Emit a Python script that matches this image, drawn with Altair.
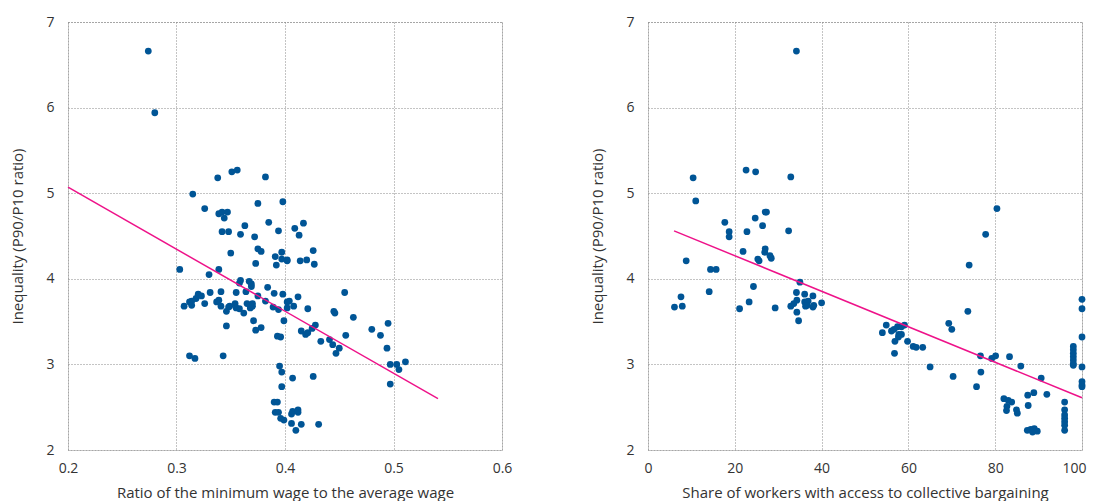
import altair as alt
import pandas as pd

# Left panel: ratio of minimum wage to average wage vs P90/P10
mw_x = [0.274, 0.280, 0.338, 0.351, 0.356, 0.382, 0.315, 0.326, 0.375, 0.398,
        0.339, 0.342, 0.347, 0.344, 0.363, 0.385, 0.394, 0.409, 0.417, 0.413,
        0.342, 0.348, 0.359, 0.372, 0.350, 0.375, 0.378, 0.373, 0.391, 0.397,
        0.392, 0.397, 0.402, 0.402, 0.414, 0.420, 0.426, 0.427, 0.303, 0.330,
        0.339, 0.359, 0.358, 0.367, 0.369, 0.369, 0.384, 0.331, 0.341, 0.355,
        0.364, 0.375, 0.390, 0.398, 0.455, 0.320, 0.323, 0.318, 0.314, 0.312,
        0.314, 0.307, 0.326, 0.337, 0.339, 0.341, 0.346, 0.348, 0.349, 0.354,
        0.355, 0.358, 0.362, 0.365, 0.368, 0.370, 0.370, 0.382, 0.389, 0.394,
        0.402, 0.404, 0.408, 0.402, 0.412, 0.421, 0.399, 0.371, 0.346, 0.373,
        0.378, 0.393, 0.396, 0.415, 0.419, 0.421, 0.428, 0.425, 0.433, 0.445,
        0.446, 0.463, 0.456, 0.441, 0.444, 0.450, 0.447, 0.480, 0.488, 0.495,
        0.494, 0.497, 0.503, 0.505, 0.511, 0.497, 0.312, 0.317, 0.343, 0.395,
        0.397, 0.407, 0.397, 0.426, 0.390, 0.393, 0.391, 0.394, 0.396, 0.399,
        0.406, 0.406, 0.407, 0.412, 0.412, 0.410, 0.415, 0.431]
mw_y = [6.66, 5.94, 5.18, 5.25, 5.27, 5.19, 4.99, 4.82, 4.88, 4.90,
        4.76, 4.78, 4.78, 4.71, 4.62, 4.66, 4.56, 4.59, 4.65, 4.51,
        4.55, 4.55, 4.52, 4.49, 4.30, 4.35, 4.32, 4.18, 4.26, 4.31,
        4.16, 4.23, 4.22, 4.21, 4.21, 4.22, 4.33, 4.17, 4.11, 4.05,
        4.11, 3.98, 3.95, 3.97, 3.94, 3.91, 3.90, 3.84, 3.85, 3.84,
        3.85, 3.80, 3.83, 3.82, 3.84, 3.82, 3.80, 3.77, 3.74, 3.73,
        3.69, 3.68, 3.71, 3.73, 3.75, 3.68, 3.62, 3.67, 3.68, 3.71,
        3.66, 3.65, 3.60, 3.71, 3.66, 3.68, 3.71, 3.74, 3.67, 3.64,
        3.73, 3.74, 3.68, 3.66, 3.79, 3.65, 3.51, 3.51, 3.45, 3.40,
        3.43, 3.33, 3.32, 3.39, 3.35, 3.37, 3.46, 3.42, 3.27, 3.62,
        3.60, 3.55, 3.34, 3.29, 3.23, 3.19, 3.13, 3.41, 3.34, 3.48,
        3.19, 3.00, 3.00, 2.94, 3.03, 2.77, 3.10, 3.07, 3.10, 2.98,
        2.91, 2.84, 2.74, 2.86, 2.56, 2.56, 2.44, 2.44, 2.37, 2.35,
        2.31, 2.42, 2.45, 2.47, 2.44, 2.23, 2.30, 2.30]

# Right panel: share of workers with access to collective bargaining vs P90/P10
cb_x = [34.2, 10.4, 22.6, 24.8, 32.9, 11.0, 80.4, 27.0, 27.3, 17.7,
        24.7, 26.4, 18.7, 18.7, 22.8, 32.4, 77.8, 8.8, 14.4, 15.7,
        21.9, 25.3, 25.6, 27.0, 26.9, 28.1, 28.4, 74.0, 14.1, 7.6,
        6.1, 7.9, 24.3, 23.3, 21.1, 29.3, 35.0, 34.2, 36.1, 38.0,
        40.0, 34.3, 33.6, 32.9, 36.1, 36.9, 36.3, 38.0, 34.3, 34.7,
        36.7, 38.2, 73.7, 69.3, 70.0, 54.0, 54.9, 56.1, 56.7, 57.5,
        58.4, 59.1, 57.8, 58.4, 57.7, 56.9, 59.8, 61.1, 61.8, 63.3,
        56.8, 65.0, 70.3, 75.7, 76.6, 76.7, 79.2, 80.1, 83.3, 85.9,
        90.6, 91.9, 87.5, 88.9, 87.6, 82.0, 83.0, 83.8, 82.7, 82.6,
        84.9, 85.1, 87.4, 88.2, 89.0, 89.7, 88.6, 96.0, 96.0, 96.0,
        96.0, 96.0, 96.0, 96.0, 98.0, 98.0, 98.0, 98.0, 98.0, 98.0,
        98.0, 100.0, 100.0, 100.0, 100.0, 100.0, 100.0, 100.0]
cb_y = [6.66, 5.18, 5.27, 5.25, 5.19, 4.91, 4.82, 4.78, 4.78, 4.66,
        4.71, 4.62, 4.55, 4.49, 4.55, 4.56, 4.52, 4.21, 4.11, 4.11,
        4.32, 4.23, 4.21, 4.35, 4.31, 4.27, 4.24, 4.16, 3.85, 3.79,
        3.67, 3.68, 3.91, 3.73, 3.65, 3.66, 3.96, 3.84, 3.82, 3.80,
        3.72, 3.75, 3.71, 3.68, 3.73, 3.74, 3.68, 3.67, 3.61, 3.51,
        3.69, 3.69, 3.62, 3.48, 3.41, 3.37, 3.46, 3.39, 3.41, 3.44,
        3.44, 3.46, 3.35, 3.35, 3.32, 3.27, 3.27, 3.21, 3.20, 3.20,
        3.13, 2.97, 2.86, 2.74, 3.10, 2.91, 3.07, 3.10, 3.09, 2.98,
        2.84, 2.65, 2.64, 2.67, 2.52, 2.60, 2.58, 2.56, 2.51, 2.46,
        2.47, 2.43, 2.23, 2.24, 2.25, 2.22, 2.21, 2.56, 2.47, 2.41,
        2.37, 2.33, 2.29, 2.23, 3.21, 3.17, 3.13, 3.09, 3.05, 3.01,
        2.99, 3.76, 3.65, 3.32, 2.97, 2.80, 2.76, 2.74]

# Fitted trend line end points
mw_fit_x = [0.2, 0.541]
mw_fit_y = [5.07, 2.60]
cb_fit_x = [6.0, 100.0]
cb_fit_y = [4.56, 2.61]

y_title = "Inequality (P90/P10 ratio)"
DOT = "#005596"
LINE = "#ee1289"
FONT = "Open Sans"

df_mw = pd.DataFrame({"x": mw_x, "y": mw_y})
df_cb = pd.DataFrame({"x": cb_x, "y": cb_y})
df_mw_fit = pd.DataFrame({"x": mw_fit_x, "y": mw_fit_y})
df_cb_fit = pd.DataFrame({"x": cb_fit_x, "y": cb_fit_y})

yscale = alt.Scale(domain=[2, 7], nice=False, zero=False)
yaxis = alt.Axis(title=y_title, values=[2, 3, 4, 5, 6, 7], format="d")


def panel(df, dfit, xdom, xvals, xfmt, xtitle, last_right=False):
    xs = alt.Scale(domain=xdom, nice=False, zero=False)
    extra = {}
    if last_right:
        extra = dict(
            labelAlign={"condition": {"test": "datum.value == 100", "value": "right"},
                        "value": "center"},
            labelOffset={"condition": {"test": "datum.value == 100", "value": 4},
                         "value": 0},
        )
    xa = alt.Axis(title=xtitle, values=xvals, format=xfmt, **extra)
    pts = alt.Chart(df).mark_circle(size=46, color=DOT, opacity=1).encode(
        x=alt.X("x:Q", scale=xs, axis=xa),
        y=alt.Y("y:Q", scale=yscale, axis=yaxis),
    )
    ln = alt.Chart(dfit).mark_line(color=LINE, strokeWidth=1.5).encode(
        x=alt.X("x:Q", scale=xs),
        y=alt.Y("y:Q", scale=yscale),
    )
    return alt.layer(pts, ln).properties(width=434, height=428)


left = panel(df_mw, df_mw_fit, [0.2, 0.6], [0.2, 0.3, 0.4, 0.5, 0.6], ".1f",
             "Ratio of the minimum wage to the average wage")
right = panel(df_cb, df_cb_fit, [0, 100], [0, 20, 40, 60, 80, 100], "d",
              "Share of workers with access to collective bargaining", last_right=True)

chart = alt.hconcat(left, right, spacing=77).properties(
    padding={"top": 6, "left": 2, "right": 0, "bottom": 0}
).configure_view(
    stroke="#888888", strokeDash=[1, 2], strokeWidth=1
).configure_axis(
    grid=True, gridColor="#888888", gridDash=[1, 2], gridWidth=1,
    domain=False, ticks=False, labelFlush=False,
    labelFont=FONT, labelFontSize=14, labelColor="#333333", labelPadding=11,
    titleFont=FONT, titleFontSize=15, titleColor="#333333", titleFontWeight="normal",
    titlePadding=10,
).configure_axisY(
    labelPadding=14, titlePadding=20,
)

chart.save("out.html", embed_options={"renderer": "svg", "actions": False})
